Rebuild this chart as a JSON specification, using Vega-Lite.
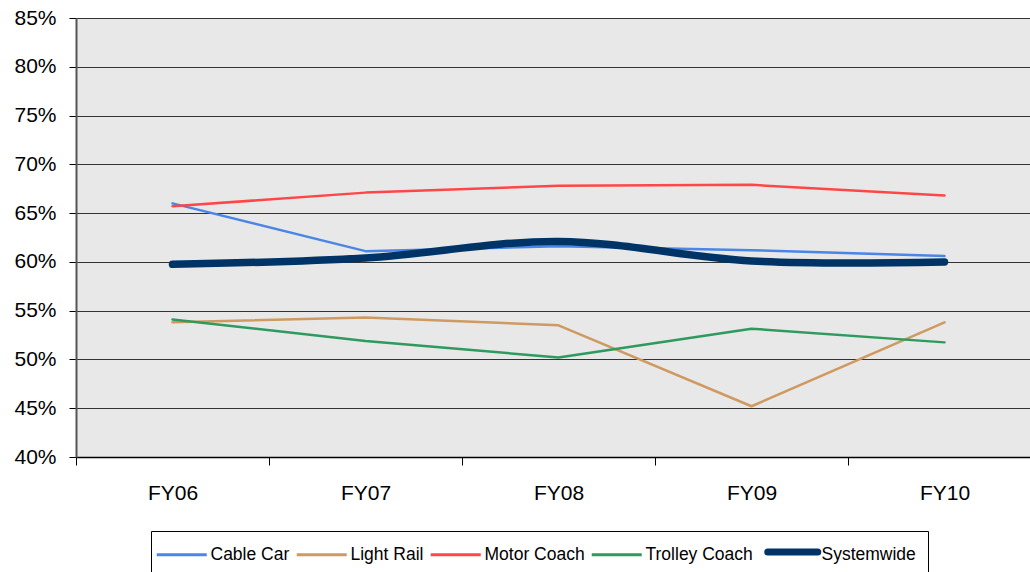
{
  "$schema": "https://vega.github.io/schema/vega-lite/v6.json",
  "width": 954,
  "height": 439,
  "autosize": "none",
  "padding": {"left": 76, "top": 18, "right": 0, "bottom": 115},
  "background": "white",
  "config": {
    "view": {"fill": "#E8E8E8", "stroke": null},
    "font": "Liberation Sans"
  },
  "data": {
    "values": [
      {"year": "FY06", "series": "Cable Car", "value": 66.0},
      {"year": "FY07", "series": "Cable Car", "value": 61.1},
      {"year": "FY08", "series": "Cable Car", "value": 61.6},
      {"year": "FY09", "series": "Cable Car", "value": 61.2},
      {"year": "FY10", "series": "Cable Car", "value": 60.6},
      {"year": "FY06", "series": "Light Rail", "value": 53.8},
      {"year": "FY07", "series": "Light Rail", "value": 54.3},
      {"year": "FY08", "series": "Light Rail", "value": 53.5},
      {"year": "FY09", "series": "Light Rail", "value": 45.2},
      {"year": "FY10", "series": "Light Rail", "value": 53.8},
      {"year": "FY06", "series": "Motor Coach", "value": 65.7},
      {"year": "FY07", "series": "Motor Coach", "value": 67.1},
      {"year": "FY08", "series": "Motor Coach", "value": 67.8},
      {"year": "FY09", "series": "Motor Coach", "value": 67.9},
      {"year": "FY10", "series": "Motor Coach", "value": 66.8},
      {"year": "FY06", "series": "Trolley Coach", "value": 54.1},
      {"year": "FY07", "series": "Trolley Coach", "value": 51.9},
      {"year": "FY08", "series": "Trolley Coach", "value": 50.2},
      {"year": "FY09", "series": "Trolley Coach", "value": 53.15},
      {"year": "FY10", "series": "Trolley Coach", "value": 51.75},
      {"year": "FY06", "series": "Systemwide", "value": 59.75},
      {"year": "FY07", "series": "Systemwide", "value": 60.4},
      {"year": "FY08", "series": "Systemwide", "value": 62.1},
      {"year": "FY09", "series": "Systemwide", "value": 60.1},
      {"year": "FY10", "series": "Systemwide", "value": 60.0}
    ]
  },
  "encoding": {
    "x": {
      "field": "year",
      "type": "nominal",
      "sort": null,
      "scale": {"range": [0, 965], "paddingInner": 0, "paddingOuter": 0},
      "axis": {
        "title": null,
        "labelAngle": 0,
        "labelFontSize": 21,
        "labelColor": "black",
        "labelPadding": 17,
        "tickBand": "extent",
        "tickSize": 8,
        "tickColor": "black",
        "domainColor": "black",
        "domainWidth": 1.5,
        "grid": false
      }
    },
    "y": {
      "field": "value",
      "type": "quantitative",
      "scale": {"domain": [40, 85], "nice": false, "zero": false},
      "axis": {
        "title": null,
        "values": [40, 45, 50, 55, 60, 65, 70, 75, 80, 85],
        "labelExpr": "datum.value + '%'",
        "labelFontSize": 21,
        "labelColor": "black",
        "labelPadding": 13,
        "tickSize": 7,
        "tickColor": "black",
        "domainColor": "#555555",
        "domainWidth": 2,
        "grid": true,
        "gridColor": "#333333",
        "gridWidth": 1,
        "gridOpacity": 1
      }
    },
    "color": {
      "field": "series",
      "type": "nominal",
      "scale": {
        "domain": ["Cable Car", "Light Rail", "Motor Coach", "Trolley Coach", "Systemwide"],
        "range": ["#4A86E8", "#CF9A62", "#FF4747", "#2F9A5E", "#003366"]
      },
      "legend": {
        "title": null,
        "orient": "none",
        "legendX": 75,
        "legendY": 513,
        "direction": "horizontal",
        "symbolType": "M-1.667,0H1.667",
        "symbolSize": 900,
        "symbolOffset": 10,
        "labelFontSize": 17.5,
        "labelColor": "black",
        "labelOffset": 20,
        "columnPadding": 0,
        "strokeColor": "black",
        "padding": 12,
        "fillColor": "white",
        "encode": {
          "symbols": {
            "update": {
              "strokeWidth": {"signal": "datum.value === 'Systemwide' ? 7 : 3"},
              "strokeCap": {"signal": "datum.value === 'Systemwide' ? 'round' : 'butt'"}
            }
          },
          "labels": {
            "update": {
              "dy": {"signal": "datum.value === 'Systemwide' ? 3 : 0"}
            }
          }
        }
      }
    }
  },
  "layer": [
    {
      "transform": [{"filter": "datum.series !== 'Systemwide'"}],
      "mark": {"type": "line", "strokeWidth": 2.5, "strokeCap": "round", "strokeJoin": "round"}
    },
    {
      "transform": [{"filter": "datum.series === 'Systemwide'"}],
      "mark": {"type": "line", "strokeWidth": 7.5, "interpolate": "cardinal", "strokeCap": "round", "strokeJoin": "round"}
    }
  ]
}
